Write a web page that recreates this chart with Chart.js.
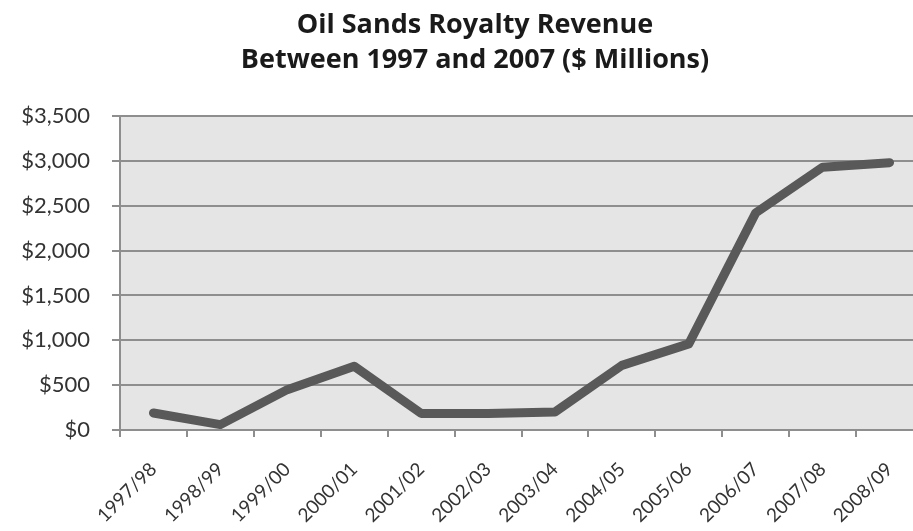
<!DOCTYPE html>
<html>
<head>
<meta charset="utf-8">
<script src="https://cdn.jsdelivr.net/npm/chart.js@4.4.1/dist/chart.umd.min.js"></script>
<style>
    html, body { margin: 0; padding: 0; background: #ffffff; overflow: hidden; }
    #wrap { width: 950px; height: 531px; position: relative; }
</style>
</head>
<body>
<div id="wrap"><canvas id="royaltyChart"></canvas></div>
<script>
// Oil sands royalty revenue by fiscal year ($ millions)
const fiscalYears = ['1997/98', '1998/99', '1999/00', '2000/01', '2001/02', '2002/03',
    '2003/04', '2004/05', '2005/06', '2006/07', '2007/08', '2008/09'];
const royaltyRevenue = [190, 60, 450, 710, 185, 185, 200, 720, 960, 2420, 2930, 2980];
const titleLines = ['Oil Sands Royalty Revenue', 'Between 1997 and 2007 ($ Millions)'];
const yTicks = [0, 500, 1000, 1500, 2000, 2500, 3000, 3500];

const FONT = 'Lato, "Open Sans", sans-serif';
const GRID = '#8e8e8e';

// Grey fill behind the plot area
const plotBackground = {
    id: 'plotBackground',
    beforeDraw(chart) {
        const { ctx, chartArea } = chart;
        ctx.save();
        ctx.fillStyle = '#e5e5e5';
        ctx.fillRect(chartArea.left, chartArea.top,
            chartArea.right - chartArea.left, chartArea.bottom - chartArea.top);
        ctx.restore();
    }
};

// Two-line title centred on the whole chart box (the built-in one
// centres inside the layout padding, which is lopsided here)
const chartTitle = {
    id: 'chartTitle',
    afterDraw(chart) {
        const { ctx, width } = chart;
        ctx.save();
        ctx.fillStyle = '#1a1a1a';
        ctx.font = 'bold 27px "Open Sans", sans-serif';
        ctx.textAlign = 'center';
        ctx.textBaseline = 'alphabetic';
        titleLines.forEach((line, i) => ctx.fillText(line, width / 2, 33 + i * 35));
        ctx.restore();
    }
};

const money = v => '$' + v.toLocaleString('en-US');

new Chart(document.getElementById('royaltyChart'), {
    type: 'line',
    data: {
        labels: fiscalYears,
        datasets: [{
            label: 'Royalty Revenue',
            data: royaltyRevenue,
            borderColor: '#595959',
            borderWidth: 9,
            borderCapStyle: 'round',
            borderJoinStyle: 'round',
            pointRadius: 0,
            tension: 0,
            fill: false
        }]
    },
    options: {
        responsive: true,
        maintainAspectRatio: false,
        animation: false,
        layout: { padding: { top: 116, right: 27, bottom: 0, left: 0 } },
        plugins: {
            legend: { display: false },
            tooltip: { enabled: false },
            title: { display: false }
        },
        scales: {
            x: {
                offset: true,
                grid: {
                    offset: true,
                    drawOnChartArea: false,
                    drawTicks: true,
                    tickLength: 7,
                    color: GRID,
                    lineWidth: 2
                },
                border: { color: GRID, width: 2 },
                ticks: {
                    color: '#333333',
                    font: { family: FONT, size: 19 },
                    maxRotation: 45,
                    minRotation: 45,
                    autoSkip: false,
                    padding: 21
                },
                afterFit(scale) { scale.height = 101; }
            },
            y: {
                min: 0,
                max: 3500,
                afterBuildTicks(scale) {
                    scale.ticks = yTicks.map(v => ({ value: v }));
                },
                grid: {
                    color: GRID,
                    lineWidth: 2,
                    tickLength: 8
                },
                border: { color: GRID, width: 2 },
                ticks: {
                    color: '#333333',
                    font: { family: FONT, size: 22 },
                    padding: 22,
                    callback: v => money(v)
                },
                afterFit(scale) { scale.width = 120; }
            }
        }
    },
    plugins: [plotBackground, chartTitle]
});
</script>
</body>
</html>
